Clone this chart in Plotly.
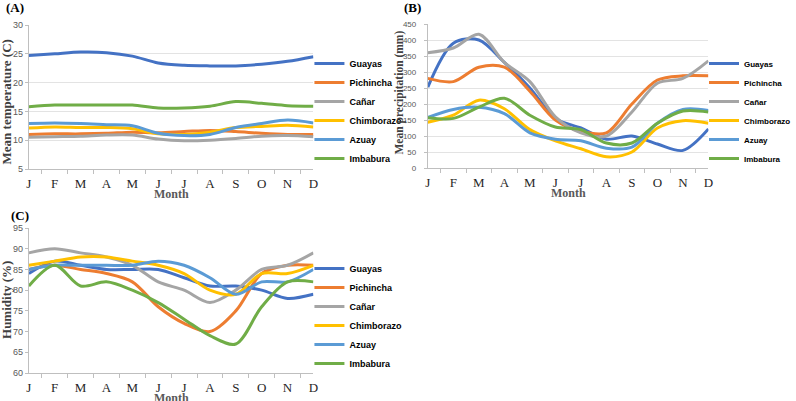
import plotly.graph_objects as go

months = ["J", "F", "M", "A", "M ", "J ", "J  ", "A ", "S", "O", "N", "D"]
month_labels = ["J", "F", "M", "A", "M", "J", "J", "A", "S", "O", "N", "D"]
provinces = ["Guayas", "Pichincha", "Cañar", "Chimborazo", "Azuay", "Imbabura"]
colors = ["#4472C4", "#ED7D31", "#A5A5A5", "#FFC000", "#5B9BD5", "#70AD47"]

# (A) mean temperature (C)
temp_guayas = [24.7, 25.0, 25.3, 25.2, 24.6, 23.4, 23.0, 22.9, 22.9, 23.2, 23.7, 24.5]
temp_pichincha = [11.0, 11.1, 11.1, 11.2, 11.4, 11.3, 11.5, 11.7, 11.5, 11.2, 11.0, 11.0]
temp_canar = [10.5, 10.6, 10.7, 10.9, 10.9, 10.2, 9.9, 10.0, 10.3, 10.7, 10.8, 10.6]
temp_chimborazo = [12.1, 12.3, 12.2, 12.2, 12.0, 11.1, 11.0, 11.4, 12.2, 12.4, 12.6, 12.3]
temp_azuay = [12.9, 13.0, 12.9, 12.7, 12.5, 11.2, 10.8, 11.0, 12.2, 12.9, 13.5, 13.0]
temp_imbabura = [15.8, 16.1, 16.1, 16.1, 16.1, 15.6, 15.6, 15.9, 16.7, 16.4, 16.0, 15.9]

# (B) mean precipitation (mm)
prec_guayas = [253, 390, 400, 330, 250, 155, 125, 90, 100, 75, 55, 122]
prec_pichincha = [280, 270, 315, 315, 240, 150, 115, 110, 200, 275, 288, 288]
prec_canar = [360, 375, 418, 330, 270, 160, 110, 100, 175, 265, 280, 335]
prec_chimborazo = [143, 165, 212, 185, 120, 85, 60, 35, 50, 125, 148, 140]
prec_azuay = [158, 183, 190, 170, 110, 90, 85, 62, 65, 140, 183, 180]
prec_imbabura = [157, 155, 190, 218, 165, 128, 120, 78, 78, 140, 178, 175]

# (C) humidity (%)
hum_guayas = [84, 87, 86, 85, 85, 85, 83, 81, 81, 80, 78, 79]
hum_pichincha = [85, 86, 85, 84, 82, 76, 72, 70, 75, 84, 86, 86]
hum_canar = [89, 90, 89, 88, 86, 82, 80, 77, 80, 85, 86, 89]
hum_chimborazo = [86, 87, 88, 88, 87, 86, 84, 80, 79, 84, 84, 86]
hum_azuay = [85, 86, 86, 86, 86, 87, 86, 83, 79, 82, 82, 85]
hum_imbabura = [81, 86, 81, 82, 80, 77, 73, 69, 67, 76, 82, 82]

panels = [
    ("x", "y", "legend", [temp_guayas, temp_pichincha, temp_canar,
                          temp_chimborazo, temp_azuay, temp_imbabura]),
    ("x2", "y2", "legend2", [prec_guayas, prec_pichincha, prec_canar,
                             prec_chimborazo, prec_azuay, prec_imbabura]),
    ("x3", "y3", "legend3", [hum_guayas, hum_pichincha, hum_canar,
                             hum_chimborazo, hum_azuay, hum_imbabura]),
]

W, H = 796, 401

fig = go.Figure()
for xa, ya, lg, series in panels:
    for name, color, vals in zip(provinces, colors, series):
        fig.add_trace(go.Scatter(
            x=months, y=vals, name=name, mode="lines",
            line=dict(color=color, width=3, shape="spline", smoothing=0.9),
            xaxis=xa, yaxis=ya, legend=lg,
        ))


def px_x(a, b):
    return [a / W, b / W]


def px_y(top, bottom):
    return [1 - bottom / H, 1 - top / H]


serif = "Liberation Serif, Times New Roman, serif"
sans = "Liberation Sans, Arial, sans-serif"

xcommon = dict(
    type="category", categoryorder="array", categoryarray=months,
    tickvals=months, ticktext=month_labels,
    showline=True, linecolor="#BFBFBF", linewidth=1,
    ticks="outside", tickson="boundaries", ticklen=4, tickcolor="#BFBFBF",
    showgrid=False, zeroline=False, fixedrange=True, automargin=False,
    tickfont=dict(family=serif, size=13, color="#262626"),
    ticklabelstandoff=2,
)
ycommon = dict(
    showline=True, linecolor="#BFBFBF", linewidth=1,
    ticks="outside", ticklen=3, tickcolor="#BFBFBF",
    zeroline=False, fixedrange=True, automargin=False,
    tickfont=dict(family=sans, size=9, color="#595959"),
)

fig.update_layout(
    width=W, height=H,
    margin=dict(l=0, r=0, t=0, b=0),
    plot_bgcolor="white", paper_bgcolor="white",
    xaxis=dict(xcommon, domain=px_x(29, 315), anchor="y"),
    yaxis=dict(ycommon, domain=px_y(25, 169), anchor="x", range=[5, 30], dtick=5,
               showgrid=True, gridcolor="#E3E3E3"),
    xaxis2=dict(xcommon, domain=px_x(430, 712), anchor="y2"),
    yaxis2=dict(ycommon, domain=px_y(24, 168), anchor="x2", range=[0, 450], dtick=50,
                showgrid=True, gridcolor="#E3E3E3", ticklabelstandoff=6,
                tickfont=dict(family=sans, size=8, color="#595959")),
    xaxis3=dict(xcommon, domain=px_x(29, 315), anchor="y3"),
    yaxis3=dict(ycommon, domain=px_y(228, 373), anchor="x3", range=[60, 95], dtick=5,
                showgrid=False),
)

legend_style = dict(
    bgcolor="rgba(0,0,0,0)", borderwidth=0,
    xanchor="left", yanchor="middle", tracegroupgap=0,
)
fig.update_layout(
    legend=dict(legend_style, x=311 / W, y=1 - 111 / H,
                font=dict(family=sans, size=9, color="#000000", weight="bold")),
    legend2=dict(legend_style, x=708 / W, y=1 - 111 / H,
                 font=dict(family=sans, size=8, color="#000000", weight="bold")),
    legend3=dict(legend_style, x=311 / W, y=1 - 316 / H,
                 font=dict(family=sans, size=9, color="#000000", weight="bold")),
)

# x-axis titles sit tight under the month letters
for xd, yd in [("x domain", "y domain"), ("x2 domain", "y2 domain"), ("x3 domain", "y3 domain")]:
    fig.add_annotation(
        text="<b>Month</b>", x=0.5, y=0, xref=xd, yref=yd,
        xanchor="center", yanchor="middle", yshift=-25, showarrow=False,
        font=dict(family=serif, size=12, color="#595959"),
    )

# y-axis titles
for text, xp, yp, size in [("Mean temperature (C)", 7.5, 102, 13),
                           ("Mean precipitation (mm)", 401.5, 92, 11.5),
                           ("Humidity (%)", 6, 300, 13)]:
    fig.add_annotation(
        text="<b>" + text + "</b>", x=xp / W, y=1 - yp / H, textangle=-90,
        xref="paper", yref="paper", xanchor="center", yanchor="middle",
        showarrow=False, font=dict(family=serif, size=size, color="#404040"),
    )

for label, xp, yp in [("(A)", 4, 8), ("(B)", 404, 8), ("(C)", 9, 215)]:
    fig.add_annotation(
        text="<b>" + label + "</b>", x=xp / W, y=1 - yp / H,
        xref="paper", yref="paper", xanchor="left", yanchor="middle",
        showarrow=False, font=dict(family=serif, size=13, color="#000000"),
    )

fig.write_html("out.html", config={"displayModeBar": False},
               post_script="document.body.style.margin='0';")
